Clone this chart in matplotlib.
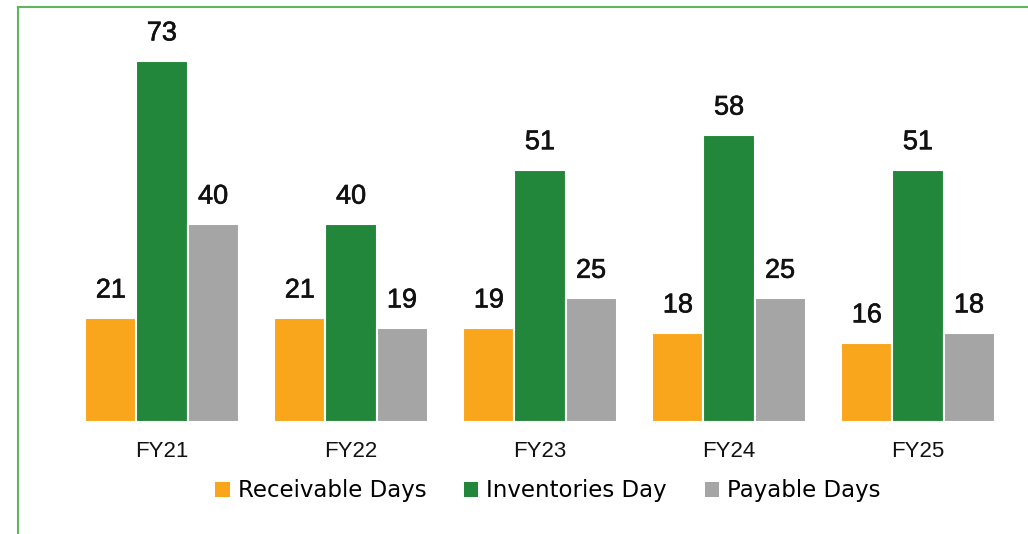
import numpy as np
import matplotlib.pyplot as plt
import matplotlib.patheffects as pe
from matplotlib.lines import Line2D
from matplotlib.patches import Patch

# data
years = ['FY21', 'FY22', 'FY23', 'FY24', 'FY25']
receivable = [21, 21, 19, 18, 16]
inventories = [73, 40, 51, 58, 51]
payable = [40, 19, 25, 25, 18]

series_names = ['Receivable Days', 'Inventories Day', 'Payable Days']
colors = ['#F9A61C', '#22873A', '#A5A5A5']

plt.rcParams['font.family'] = ['Liberation Sans', 'DejaVu Sans']

W, H = 1028, 534
fig = plt.figure(figsize=(W / 100, H / 100), dpi=100)

# axes placed in pixel terms: baseline at y=422, groups 189 px apart
left, right = 67.5, 1012.5
bottom = H - 422
ymax = 80
height = ymax * 4.945
ax = fig.add_axes([left / W, bottom / H, (right - left) / W, height / H])

x = np.arange(len(years))
bw = 0.27
for i, (vals, col) in enumerate(zip([receivable, inventories, payable], colors)):
    pos = x + (i - 1) * bw
    bars = ax.bar(pos, vals, width=bw, color=col, edgecolor='white', linewidth=1.5)
    for b, v in zip(bars, vals):
        ax.annotate(str(v), (b.get_x() + b.get_width() / 2, v),
                    xytext=(0, 10.5), textcoords='offset points',
                    ha='center', va='bottom', fontsize=19.5, color='#111111',
                    path_effects=[pe.withStroke(linewidth=0.45, foreground='#111111')])

ax.set_xlim(-0.5, 4.5)
ax.set_ylim(0, ymax)
ax.set_xticks(x)
ax.set_xticklabels(years, fontsize=16, color='#111111')
ax.tick_params(axis='x', length=0, pad=14)
ax.set_yticks([])
for s in ax.spines.values():
    s.set_visible(False)

handles = [Patch(facecolor=c, edgecolor='none') for c in colors]
fig.legend(handles, series_names, loc='center', bbox_to_anchor=(548 / W, 1 - 491 / H),
           ncol=3, frameon=False, prop={'family': 'DejaVu Sans', 'size': 16.5},
           handlelength=0.62, handleheight=0.62, handletextpad=0.35, columnspacing=1.65)

# green frame around the chart (left and top edges visible)
fig.add_artist(Line2D([18 / W, 18 / W], [0, 1 - 7 / H], color='#5DB85D', lw=1.5))
fig.add_artist(Line2D([18 / W, 1], [1 - 7 / H, 1 - 7 / H], color='#5DB85D', lw=1.5))

fig.savefig('out.png', dpi=100)
